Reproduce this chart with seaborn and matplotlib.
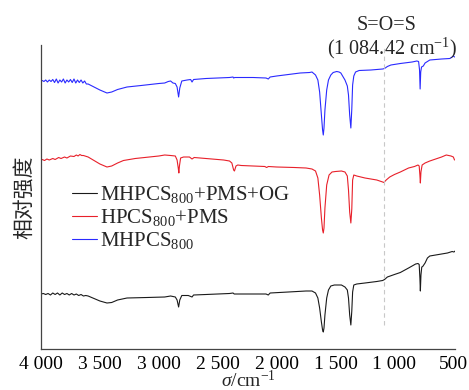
import matplotlib
matplotlib.use("Agg")
import matplotlib.pyplot as plt
from matplotlib.lines import Line2D
import seaborn as sns
import pandas as pd

# ---------------- data ----------------
# MHPCS800 (top, blue)
wn_blue = [4000, 3990, 3975, 3960, 3945, 3930, 3915, 3900, 3885, 3870, 3855, 3840, 3825, 3810,
           3795, 3780, 3765, 3750, 3735, 3720, 3705, 3690, 3675, 3660, 3645, 3630, 3615,
           3600, 3550, 3500, 3440, 3400, 3350, 3270, 3150, 3000, 2950, 2920, 2900, 2880, 2860,
           2845, 2832, 2822, 2805, 2760, 2730, 2718, 2705, 2600, 2400, 2370, 2365, 2355, 2200,
           2090, 2071, 2055, 2000, 1900, 1800, 1720, 1700, 1690, 1670, 1650, 1635, 1620, 1610,
           1604, 1598, 1590, 1575, 1560, 1540, 1520, 1490, 1470, 1455, 1440, 1420, 1400, 1390,
           1380, 1370, 1362, 1355, 1345, 1330, 1300, 1200, 1100, 1084, 1060, 1030, 950, 850,
           810, 795, 787, 782, 777, 770, 755, 740, 700, 600, 530, 510, 500, 490]
i_blue = [268, 268.5, 267.5, 269, 267, 269, 267.5, 269.5, 266.5, 270, 266, 269, 267, 270,
          266, 269, 267, 269.5, 266.5, 270, 266, 269, 266.5, 269, 266, 268, 265,
          265, 262, 259, 256, 257, 259.5, 262, 263.5, 265.5, 266, 267.5, 268, 266, 265.5,
          262, 252, 261, 268, 269, 269.5, 267, 269.5, 270.5, 271.5, 272, 271, 271.5, 271.5,
          271, 270, 272, 273, 274.5, 276, 276.5, 277, 276, 274, 269, 257, 234, 219,
          214, 221, 239, 259, 269, 274, 276.5, 277.5, 277, 276, 273, 269, 263, 254,
          234, 221, 240, 264, 273, 277, 278.5, 279, 280, 280.5, 282.5, 284, 285.5, 287,
          288, 287.5, 279, 260, 277, 282, 283, 286, 289, 290, 290.5, 292, 293, 292]

# HPCS800+PMS (middle, red)
wn_red = [4000, 3990, 3970, 3950, 3930, 3900, 3880, 3850, 3830, 3800, 3780, 3750, 3720, 3700,
          3685, 3670, 3655, 3640, 3600, 3550, 3500, 3440, 3400, 3350, 3300, 3200, 3000, 2950,
          2900, 2860, 2845, 2835, 2830, 2825, 2815, 2790, 2740, 2718, 2700, 2600, 2450, 2400,
          2380, 2365, 2358, 2345, 2330, 2300, 2200, 2100, 2085, 2070, 2000, 1850, 1750, 1700,
          1670, 1650, 1635, 1620, 1610, 1604, 1598, 1590, 1575, 1555, 1530, 1500, 1450, 1420,
          1400, 1390, 1380, 1370, 1362, 1355, 1345, 1320, 1250, 1150, 1100, 1090, 1070, 1040,
          1000, 950, 880, 830, 800, 790, 784, 780, 775, 765, 740, 700, 650, 600, 560, 540,
          520, 500, 490]
i_red = [189, 189.5, 188.5, 190, 189, 190.5, 189.5, 191.5, 190.5, 192, 191, 193, 192.5, 194,
         193, 194.5, 193.5, 193.5, 192, 188.5, 185, 182, 183, 186, 188.5, 190.5, 193, 194,
         193.5, 193, 189, 181, 176, 183, 191, 192, 192, 190, 191.5, 190.5, 189, 188,
         186, 179, 178, 183, 184, 183.5, 183, 182.5, 181.5, 182.5, 182, 181.5, 181, 180,
         178, 171, 154, 131, 119, 116, 121, 141, 164, 174, 177, 177.5, 178, 177,
         173, 159, 137, 126, 140, 169, 174, 173, 171, 169, 167, 166.5, 169, 172,
         174.5, 177, 181, 182.5, 184, 183, 174, 166, 177, 184, 186, 188, 190, 192, 194, 193.5,
         193, 192, 189]

# MHPCS800+PMS+OG (bottom, black)
wn_black = [4000, 3980, 3960, 3940, 3920, 3900, 3880, 3860, 3840, 3820, 3800, 3780, 3760, 3740,
            3720, 3700, 3680, 3660, 3640, 3620, 3600, 3550, 3500, 3440, 3400, 3350, 3270, 3100,
            2950, 2900, 2860, 2845, 2832, 2822, 2805, 2750, 2718, 2705, 2600, 2400, 2370, 2360,
            2200, 2090, 2071, 2055, 1900, 1750, 1700, 1670, 1650, 1635, 1620, 1610, 1604, 1598,
            1590, 1575, 1560, 1540, 1510, 1480, 1450, 1420, 1400, 1390, 1380, 1370, 1362, 1355,
            1345, 1320, 1250, 1150, 1100, 1084, 1060, 1000, 950, 880, 820, 800, 790, 784, 780,
            775, 768, 760, 740, 720, 700, 650, 600, 550, 510, 495, 485]
i_black = [55, 55.5, 54.5, 55.5, 54, 56, 54.5, 56, 54, 56, 54.5, 55.5, 54, 55.5,
           54, 55, 53.5, 54.5, 53, 53.5, 53, 50.5, 48, 46, 46.5, 49, 51, 51.5,
           52, 53, 52, 49, 42, 49, 53.5, 53.5, 52, 54, 54.5, 55.5, 56, 55,
           55, 55, 54, 56, 57, 58, 58, 56, 51, 41, 27, 19, 17, 21,
           34, 51, 59, 63, 64, 64, 64, 62, 59, 51, 34, 24, 38, 57,
           64, 65, 66, 67.5, 68.5, 69.5, 72, 74.5, 76.5, 81, 85, 85.5, 84.5, 71, 58,
           74, 82, 82.5, 86, 91, 93, 94, 95, 96, 97.5, 97, 98]

series_labels = ["MHPCS$_{800}$+PMS+OG", "HPCS$_{800}$+PMS", "MHPCS$_{800}$"]
xtick_values = [4000, 3500, 3000, 2500, 2000, 1500, 1000, 500]
xtick_labels = ["4 000", "3 500", "3 000", "2 500", "2 000", "1 500", "1 000", "500"]
marker_wn = 1084.42

# ---------------- style ----------------
sns.set_style("white")
plt.rcParams["font.family"] = ["Liberation Serif", "Noto Sans CJK SC"]
plt.rcParams["mathtext.fontset"] = "custom"
plt.rcParams["mathtext.rm"] = "Liberation Serif"
plt.rcParams["mathtext.it"] = "Liberation Serif:italic"
plt.rcParams["mathtext.bf"] = "Liberation Serif:bold"

fig = plt.figure(figsize=(4.69, 3.90), dpi=100)
ax = fig.add_axes([41 / 469, 1 - 349 / 390, 414 / 469, 304 / 390])

c_black, c_red, c_blue = "#1a1a1a", "#e8202a", "#2a2aff"

df_b = pd.DataFrame({"wn": wn_blue, "I": i_blue})
df_r = pd.DataFrame({"wn": wn_red, "I": i_red})
df_k = pd.DataFrame({"wn": wn_black, "I": i_black})

sns.lineplot(data=df_b, x="wn", y="I", color=c_blue, lw=0.8, ax=ax, estimator=None)
sns.lineplot(data=df_r, x="wn", y="I", color=c_red, lw=0.8, ax=ax, estimator=None)
sns.lineplot(data=df_k, x="wn", y="I", color=c_black, lw=0.8, ax=ax, estimator=None)

ax.vlines(marker_wn, 24, 301, colors="#c8c8c8", linestyles=(0, (4, 3)), lw=0.8)

ax.set_xlim(4000, 486)
ax.set_ylim(0, 304)
ax.set_xticks(xtick_values)
ax.set_xticklabels(xtick_labels, fontsize=14)
ax.set_yticks([])
ax.tick_params(axis="x", direction="in", length=5, width=0.8, pad=5, colors="#444444",
               labelcolor="black")
for s in ["top", "right"]:
    ax.spines[s].set_visible(False)
for s in ["left", "bottom"]:
    ax.spines[s].set_color("#444444")
    ax.spines[s].set_linewidth(0.9)

ax.set_xlabel(r"$\sigma$/cm$^{-1}$", fontsize=14, labelpad=-2)
ax.set_ylabel("相对强度", fontsize=15, family=["Noto Sans CJK SC"], labelpad=4)

ax.text(1063, 323, "S=O=S", fontsize=14.5, ha="center", va="center", clip_on=False)
ax.text(1020, 301, "(1 084.42 cm$^{-1}$)", fontsize=14.5, ha="center", va="center",
        clip_on=False)

handles = [Line2D([], [], color=c_black, lw=0.8),
           Line2D([], [], color=c_red, lw=0.8),
           Line2D([], [], color=c_blue, lw=0.8)]
ax.legend(handles, series_labels, loc="upper left", bbox_to_anchor=(0.075, 0.543),
          frameon=False, fontsize=15, borderpad=0, handlelength=1.2, handletextpad=0.15,
          labelspacing=0.1, borderaxespad=0)

fig.savefig("out.png", dpi=100)
